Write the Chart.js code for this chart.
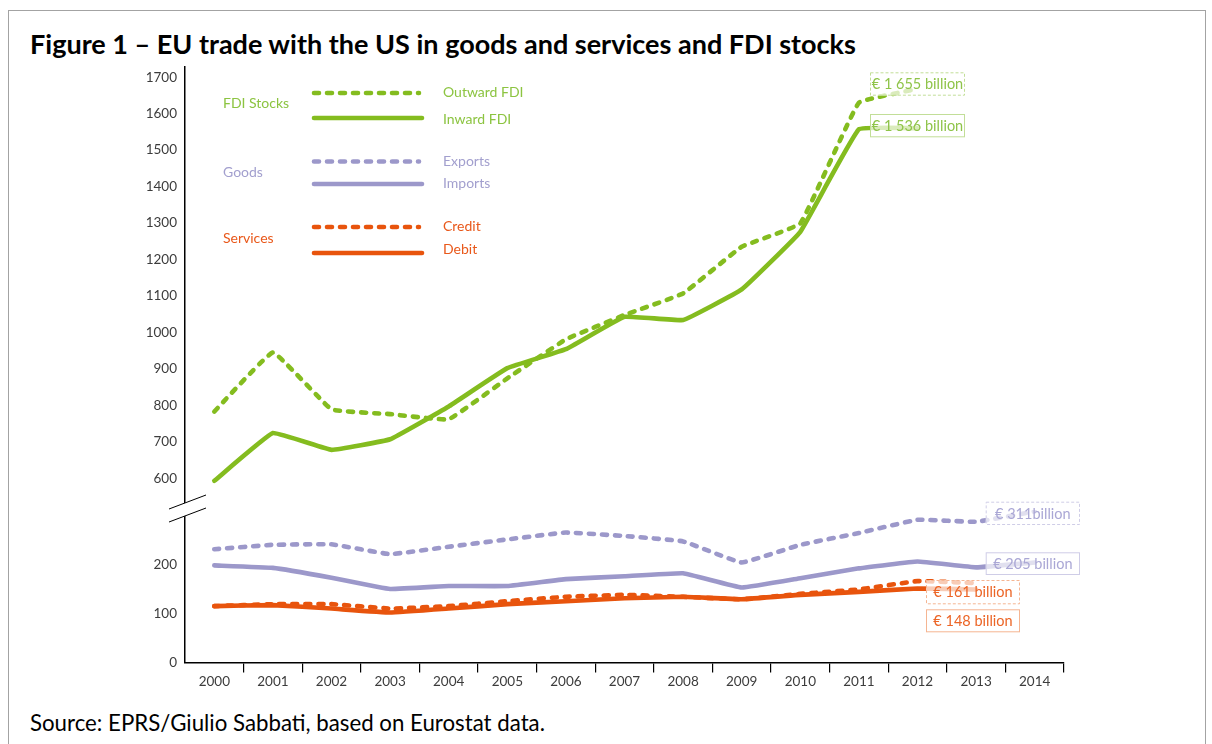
<!DOCTYPE html>
<html><head><meta charset="utf-8">
<script src="https://cdn.jsdelivr.net/npm/chart.js@4.4.1/dist/chart.umd.min.js"></script>
<style>
html,body{margin:0;padding:0;background:#fff;width:1212px;height:744px;overflow:hidden;}
#frame{position:absolute;left:8px;top:10px;width:1198px;height:780px;border:1.5px solid #a3a3a3;box-sizing:border-box;}
#title{position:absolute;left:30px;top:43px;transform:translateY(-50%);font-family:Lato;font-weight:bold;white-space:nowrap;color:#000;font-size:22px;}
#source{position:absolute;left:30px;top:722px;transform:translateY(-50%);font-family:Lato;white-space:nowrap;color:#000;font-size:17px;}
canvas{position:absolute;left:0;top:0;}
</style></head>
<body>
<div id="frame"></div>
<div id="title">Figure 1 – EU trade with the US in goods and services and FDI stocks</div>
<div id="source">Source: EPRS/Giulio Sabbati, based on Eurostat data.</div>
<canvas id="c" width="1212" height="744"></canvas>
<script>
// ---- data ----
const years = ['2000','2001','2002','2003','2004','2005','2006','2007','2008','2009','2010','2011','2012','2013','2014'];
const outwardFDI = [783,945,789,776,762,874,981,1048,1107,1235,1299,1630,1668];
const inwardFDI  = [593,724,678,707,797,902,954,1043,1034,1118,1276,1557,1560];
const goodsExports = [231,240,241,221,236,251,265,258,247,204,240,264,291,287,308];
const goodsImports = [198,193,173,150,156,156,170,176,182,153,172,192,206,194,204];
const servicesCredit = [115,119,119,110,115,125,134,138,134,129,140,149,166,162];
const servicesDebit  = [115,117,110,102,110,119,125,131,134,129,138,144,151,149];
const upperTicks = [600,700,800,900,1000,1100,1200,1300,1400,1500,1600,1700];
const lowerTicks = [0,100,200];
const groupLabels = ['FDI Stocks','Goods','Services'];
const endLabels = ['€ 1 655 billion','€ 1 536 billion','€ 311billion','€ 205 billion','€ 161 billion','€ 148 billion'];

// ---- text fitting ----
function fitText(el, target){
  const cs = getComputedStyle(el);
  const c = document.createElement('canvas').getContext('2d');
  c.font = cs.fontWeight + ' 100px ' + cs.fontFamily;
  const w = c.measureText(el.textContent).width;
  el.style.fontSize = (100*target/w) + 'px';
}
fitText(document.getElementById('title'), 827);
fitText(document.getElementById('source'), 515);

const GREEN='#84bc1f', PURPLE='#9c98ca', ORANGE='#e8540d';
const GREEN_T='#8cc441', PURPLE_T='#a29fce', ORANGE_T='#e9581a';
const FONT='Lato';

function ds(label, data, axis, color, dashed){
  return {label, data, yAxisID:axis, borderColor:color, backgroundColor:color,
    borderWidth:4.6, borderDash: dashed?[5,8]:[], borderCapStyle:'round', borderJoinStyle:'round',
    pointRadius:0, pointHoverRadius:0, tension:0.08, fill:false};
}

const datasets = [
  ds('Outward FDI', outwardFDI, 'yU', GREEN, true),
  ds('Inward FDI', inwardFDI, 'yU', GREEN, false),
  ds('Exports', goodsExports, 'yL', PURPLE, true),
  ds('Imports', goodsImports, 'yL', PURPLE, false),
  ds('Credit', servicesCredit, 'yL', ORANGE, true),
  ds('Debit', servicesDebit, 'yL', ORANGE, false)
];

const overlay = {
  id:'overlay',
  afterDatasetsDraw(chart){
    const ctx = chart.ctx, ca = chart.chartArea;
    const L = ca.left, T = ca.top;
    ctx.save();
    ctx.font = '14px ' + FONT;
    ctx.textBaseline = 'middle';
    // group labels
    const gCols = [GREEN_T, PURPLE_T, ORANGE_T];
    const gY = [36, 105, 171];
    groupLabels.forEach((g,i)=>{ ctx.fillStyle=gCols[i]; ctx.textAlign='left'; ctx.fillText(g, L+38, T+gY[i]); });
    // legend samples
    const lineY = [26, 51, 94.5, 117, 160, 186];
    const textY = [25.7, 52, 94.5, 116.3, 159.7, 182];
    const tCols = [GREEN_T, GREEN_T, PURPLE_T, PURPLE_T, ORANGE_T, ORANGE_T];
    chart.data.datasets.forEach((d,i)=>{
      ctx.strokeStyle = d.borderColor; ctx.lineWidth = d.borderWidth;
      ctx.lineCap = 'round'; ctx.setLineDash(d.borderDash);
      const dashed = d.borderDash.length>0;
      ctx.beginPath(); ctx.moveTo(L+129, T+lineY[i]); ctx.lineTo(L+(dashed?234:237), T+lineY[i]); ctx.stroke();
      ctx.setLineDash([]);
      ctx.fillStyle = tCols[i]; ctx.textAlign='left';
      ctx.fillText(d.label, L+258, T+textY[i]);
    });
    // end-value boxes
    const boxes = [
      {x1:870,y1:72.3,x2:965,y2:95.7, dash:true, b:'#c2de98', t:'#8fc449'},
      {x1:870,y1:114,x2:965,y2:137.3, dash:false, b:'#c2de98', t:'#8fc449'},
      {x1:985.7,y1:501.7,x2:1080,y2:525, dash:true, b:'#cfcde7', t:'#aaa7d5'},
      {x1:985.7,y1:552.3,x2:1080,y2:575, dash:false, b:'#cfcde7', t:'#aaa7d5'},
      {x1:926,y1:580,x2:1020,y2:604.3, dash:true, b:'#f5b592', t:'#ec6526'},
      {x1:926,y1:609.3,x2:1020,y2:632.3, dash:false, b:'#f5b592', t:'#ec6526'}
    ];
    boxes.forEach((bx,i)=>{
      ctx.fillStyle='rgba(255,255,255,0.7)';
      ctx.fillRect(bx.x1,bx.y1,bx.x2-bx.x1,bx.y2-bx.y1);
      ctx.lineWidth=1; ctx.strokeStyle=bx.b; ctx.lineCap='butt';
      ctx.setLineDash(bx.dash?[3,2]:[]);
      ctx.strokeRect(bx.x1+0.5,bx.y1+0.5,bx.x2-bx.x1-1,bx.y2-bx.y1-1);
      ctx.setLineDash([]);
      ctx.fillStyle=bx.t; ctx.textAlign='center'; ctx.font='14.5px '+FONT;
      ctx.fillText(endLabels[i], (bx.x1+bx.x2)/2, (bx.y1+bx.y2)/2+0.5);
    });
    ctx.restore();
  },
  afterDraw(chart){
    const ctx = chart.ctx;
    const yL = chart.scales.yL;
    const x = yL.right, yb = yL.top;
    ctx.save();
    ctx.fillStyle='#fff';
    ctx.beginPath();
    ctx.moveTo(x-16, yb-1); ctx.lineTo(x+21, yb-15); ctx.lineTo(x+21, yb-2); ctx.lineTo(x-16, yb+12); ctx.closePath();
    ctx.fill();
    ctx.strokeStyle='#000'; ctx.lineWidth=1;
    ctx.beginPath(); ctx.moveTo(x-16, yb-1); ctx.lineTo(x+21, yb-15); ctx.stroke();
    ctx.beginPath(); ctx.moveTo(x-16, yb+12); ctx.lineTo(x+21, yb-2); ctx.stroke();
    ctx.restore();
  }
};

const tickFont = {family:FONT, size:13.5};
const tickColor = '#3c3c3c';
const plain = (v)=> String(v);

new Chart(document.getElementById('c'), {
  type:'line',
  data:{labels:years, datasets},
  options:{
    responsive:false, animation:false, devicePixelRatio:1,
    layout:{padding:{left:140, right:148, top:67, bottom:41.5}},
    plugins:{legend:{display:false}, tooltip:{enabled:false}, title:{display:false}},
    scales:{
      x:{type:'category', offset:true,
        grid:{display:true, offset:true, drawOnChartArea:false, drawTicks:true, tickLength:10,
          color:(c)=> c.index===0 ? 'rgba(0,0,0,0)' : '#000', lineWidth:1.2},
        border:{display:true, color:'#000', width:1.5},
        ticks:{font:tickFont, color:tickColor, padding:1, maxRotation:0, autoSkip:false},
        afterFit(s){ s.height = 40; }
      },
      yU:{type:'linear', position:'left', stack:'v', stackWeight:443, weight:2,
        min:513, max:1728,
        ticks:{stepSize:100, font:tickFont, color:tickColor, padding:8, callback:plain},
        grid:{display:false, drawTicks:false},
        border:{display:true, color:'#000', width:1.5},
        afterBuildTicks(s){ s.ticks = upperTicks.map(v=>({value:v})); },
        afterFit(s){ s.width = 45; }
      },
      yL:{type:'linear', position:'left', stack:'v', stackWeight:152.5, weight:1,
        min:0, max:311,
        ticks:{stepSize:100, font:tickFont, color:tickColor, padding:8, callback:plain},
        grid:{display:false, drawTicks:false},
        border:{display:true, color:'#000', width:1.5},
        afterBuildTicks(s){ s.ticks = lowerTicks.map(v=>({value:v})); },
        afterFit(s){ s.width = 45; }
      }
    }
  },
  plugins:[overlay]
});
</script>
</body></html>
